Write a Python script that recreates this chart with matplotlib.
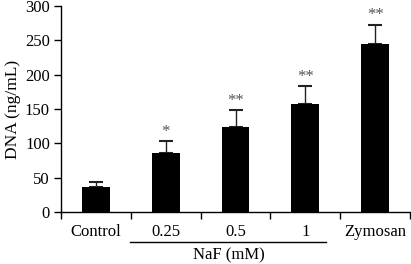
import matplotlib
matplotlib.use("Agg")
import matplotlib.pyplot as plt

categories = ["Control", "0.25", "0.5", "1", "Zymosan"]
values = [37, 86, 124, 157, 244]
errors = [6, 17, 24, 26, 29]
stars = ["", "*", "**", "**", "**"]
ylabel = "DNA (ng/mL)"
group_label = "NaF (mM)"

plt.rcParams['font.family'] = ['Liberation Serif', 'DejaVu Serif']
fig = plt.figure(figsize=(4.11, 2.64), dpi=100)
ax = fig.add_axes([61/411, 52/264, 349/411, 206/264])

x = list(range(len(categories)))
ax.bar(x, values, width=0.4, color='black', zorder=2)
ax.errorbar(x, values, yerr=[[0]*len(errors), errors], fmt='none', ecolor='#222222',
            elinewidth=1.0, capsize=5, capthick=1.5, zorder=1)
for xi, v, e, s in zip(x, values, errors, stars):
    if s:
        ax.text(xi, v + e + 2, s, ha='center', va='bottom', fontsize=12, color='#555555')

ax.set_xlim(-0.5, 4.5)
ax.set_ylim(0, 300)
ax.set_yticks([0, 50, 100, 150, 200, 250, 300])
ax.set_xticks([-0.5, 0.5, 1.5, 2.5, 3.5, 4.5])
ax.set_xticklabels([])
ax.set_xticks(x, minor=True)
ax.set_xticklabels(categories, minor=True)
ax.tick_params(axis='x', which='minor', length=0, pad=8.5, labelsize=12)
ax.tick_params(axis='x', which='major', length=5, width=1, direction='out')
ax.tick_params(axis='y', length=5, width=1, direction='out', labelsize=12, pad=3)
ax.spines['top'].set_visible(False)
ax.spines['right'].set_visible(False)
ax.spines['left'].set_linewidth(1)
ax.spines['bottom'].set_linewidth(1)
ax.set_ylabel(ylabel, fontsize=12.5, labelpad=3)

ax.plot([0.49, 3.3], [-44, -44], color='black', lw=1, clip_on=False)
ax.text(1.9, -52, group_label, ha='center', va='top', fontsize=12)

fig.savefig("out.png", dpi=100)
